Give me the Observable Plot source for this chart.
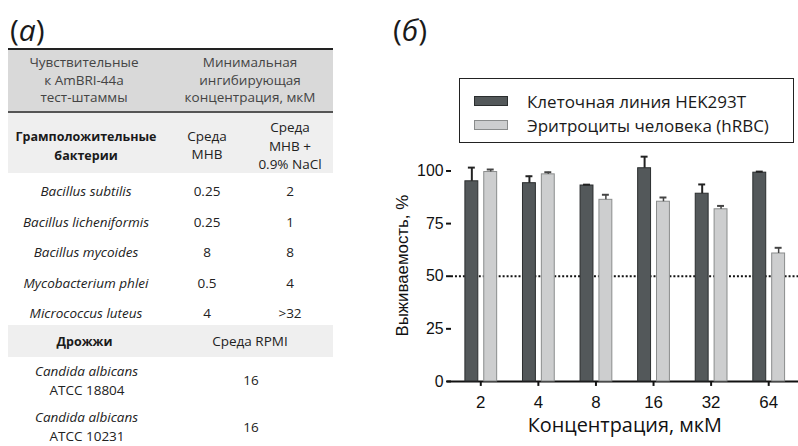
<!DOCTYPE html>
<html><head><meta charset="utf-8">
<script src="https://cdn.jsdelivr.net/npm/d3@7"></script>
<script src="https://cdn.jsdelivr.net/npm/@observablehq/plot@0.6"></script>
<style>
html,body{margin:0;padding:0;background:#fff;}
#root{position:relative;width:798px;height:446px;overflow:hidden;font-family:"Open Sans",sans-serif;color:#222;}
.t{position:absolute;transform:translate(-50%,-50%);white-space:nowrap;line-height:1;font-size:13.5px;}
.hd{color:#444;}
.b{font-weight:700;color:#1a1a1a;font-size:12.5px;}
.i{font-style:italic;}
.band{position:absolute;}
.panel{position:absolute;font-size:30px;line-height:1;color:#1a1a1a;}
.chart{position:absolute;left:380px;top:140px;}
.chart svg{overflow:visible;display:block;}
[aria-label="fx-axis label"] text{font-family:"Open Sans",sans-serif;font-size:20px;}
[aria-label="fx-axis tick label"] text{font-size:17px;}
[aria-label="y-axis label"] text{font-size:17px;}
#legend{position:absolute;left:459px;top:78px;width:333px;height:63px;border:1.5px solid #222;background:#fff;}
.sw{position:absolute;left:14px;width:32px;height:8px;}
.lt{position:absolute;left:67px;font-size:17px;line-height:1;white-space:nowrap;color:#1a1a1a;transform:translateY(-50%);}
</style>
</head><body><div id="root"></div>
<script>
// ---------- data: table (a) ----------
const headerCol1 = ["Чувствительные","к AmBRI-44a","тест-штаммы"];
const headerCol2 = ["Минимальная","ингибирующая","концентрация, мкМ"];
const groupGram = ["Грамположительные","бактерии"];
const mediumMHB = ["Среда","MHB"];
const mediumNaCl = ["Среда","MHB +","0.9% NaCl"];
const bacteria = ["Bacillus subtilis","Bacillus licheniformis","Bacillus mycoides","Mycobacterium phlei","Micrococcus luteus"];
const micMHB = ["0.25","0.25","8","0.5","4"];
const micNaCl = ["2","1","8","4",">32"];
const groupYeast = ["Дрожжи"];
const mediumRPMI = ["Среда RPMI"];
const yeasts = [["Candida albicans","ATCC 18804"],["Candida albicans","ATCC 10231"]];
const micRPMI = ["16","16"];

// ---------- data: chart (б) ----------
const concentrations = ["2","4","8","16","32","64"];
const seriesNames = ["Клеточная линия HEK293T","Эритроциты человека (hRBC)"];
const hekMean = [95.1, 94.2, 93.1, 101.3, 89.2, 99.2];
const hekErr  = [6.5, 3.3, 0.4, 5.5, 4.4, 0.5];
const rbcMean = [99.5, 98.4, 86.3, 85.4, 81.8, 60.8];
const rbcErr  = [1.2, 1.0, 2.4, 2.0, 1.6, 2.7];
const yTicks = [0, 25, 50, 75, 100];
const threshold = [50];
const fillColors = ["#53585a", "#cdcecf"];
const strokeColors = ["#2a2d2e", "#8a8c8c"];

const root = document.getElementById("root");
function el(cls, html, style){const d=document.createElement("div");d.className=cls;d.innerHTML=html;Object.assign(d.style,style||{});root.appendChild(d);return d;}
function txt(s, cx, cy, cls){return el("t "+(cls||""), s, {left:cx+"px", top:cy+"px"});}
function lines(arr, cx, ys, cls){arr.forEach((s,k)=>txt(s, cx, ys[k], cls));}

// panel labels
el("panel", '(<i>а</i>)', {left:"10px", top:"15px"});
el("panel", '(<i>б</i>)', {left:"393px", top:"15px"});

// table backgrounds and rules
el("band","",{left:"8px",top:"50px",width:"325px",height:"62px",background:"#d9d9d9"});
el("band","",{left:"8px",top:"113px",width:"325px",height:"60px",background:"#efefef"});
el("band","",{left:"8px",top:"325px",width:"325px",height:"32px",background:"#efefef"});
el("band","",{left:"8px",top:"48px",width:"325px",height:"2px",background:"#222"});
el("band","",{left:"8px",top:"111px",width:"325px",height:"2px",background:"#555"});

// table text
lines(headerCol1, 84, [63, 80.5, 98], "hd");
lines(headerCol2, 250, [63, 80.5, 98], "hd");
lines(groupGram, 86, [137, 156], "b");
lines(mediumMHB, 207, [137, 155]);
lines(mediumNaCl, 290, [128, 146.5, 165]);
const rowY = [191.5, 222.5, 253, 284, 313.5];
bacteria.forEach((s,k)=>{txt(s, 86, rowY[k], "i"); txt(micMHB[k], 207, rowY[k]); txt(micNaCl[k], 290, rowY[k]);});
txt(groupYeast[0], 84.5, 341.5, "b");
txt(mediumRPMI[0], 250, 341.5);
const yeastY = [[371.7, 391],[418.3, 436.7]];
yeasts.forEach((p,k)=>{txt(p[0], 86.5, yeastY[k][0], "i"); txt(p[1], 87, yeastY[k][1]); txt(micRPMI[k], 251, (yeastY[k][0]+yeastY[k][1])/2);});

// ---------- chart ----------
const rows = concentrations.flatMap((c,i)=>[
  {conc:c, series:seriesNames[0], value:hekMean[i], err:hekErr[i]},
  {conc:c, series:seriesNames[1], value:rbcMean[i], err:rbcErr[i]}
]);
const hek = rows.filter(d=>d.series===seriesNames[0]);
const rbc = rows.filter(d=>d.series===seriesNames[1]);

const dims = {width: 421, height: 306, marginLeft: 71.5, marginRight: 0, marginTop: 9.5, marginBottom: 63.3};
const baseStyle = {fontFamily: "'Liberation Sans', Arial, sans-serif", fontSize: "16px", color: "#111", background: "transparent"};

// underlay: y axis, baseline and 50% threshold (unfaceted, so the lines are continuous)
const under = Plot.plot({
  ...dims, style: baseStyle,
  y: {domain: [0, 110]},
  marks: [
    Plot.ruleY(threshold, {stroke: "#111", strokeWidth: 2, strokeDasharray: "2,2"}),
    Plot.ruleY([0], {stroke: "#111", strokeWidth: 2, insetLeft: -4}),
    Plot.axisY({ticks: yTicks, tickSize: 5, tickPadding: 3, strokeWidth: 2, line: true,
      label: "Выживаемость, %", labelAnchor: "center", labelOffset: 56, labelArrow: "none"})
  ]
});

// grouped bars with error bars (faceted by concentration)
const chart = Plot.plot({
  ...dims, style: baseStyle,
  fx: {domain: concentrations, padding: 0},
  x: {domain: seriesNames, paddingInner: 0.33, paddingOuter: 0.665, axis: null},
  y: {domain: [0, 110], axis: null},
  color: {domain: seriesNames, range: fillColors},
  marks: [
    Plot.barY(hek, {fx: "conc", x: "series", y: "value", fill: "series", stroke: strokeColors[0], strokeWidth: 1}),
    Plot.barY(rbc, {fx: "conc", x: "series", y: "value", fill: "series", stroke: strokeColors[1], strokeWidth: 1}),
    Plot.ruleX(hek, {fx: "conc", x: "series", y1: "value", y2: d=>d.value+d.err, stroke: "#222", strokeWidth: 2}),
    Plot.tickY(hek, {fx: "conc", x: "series", y: d=>d.value+d.err, stroke: "#222", strokeWidth: 2, insetLeft: 3, insetRight: 3}),
    Plot.ruleX(rbc, {fx: "conc", x: "series", y1: "value", y2: d=>d.value+d.err, stroke: "#444", strokeWidth: 1.5}),
    Plot.tickY(rbc, {fx: "conc", x: "series", y: d=>d.value+d.err, stroke: "#444", strokeWidth: 2, insetLeft: 3, insetRight: 3}),
    Plot.axisFx({anchor: "bottom", tickSize: 5, tickPadding: 10, strokeWidth: 2,
      label: "Концентрация, мкМ", labelAnchor: "center", labelOffset: 51, labelArrow: "none"})
  ]
});
[under, chart].forEach(svg=>{const h=document.createElement("div"); h.className="chart"; h.appendChild(svg); root.appendChild(h);});

// legend (drawn from the same colors and series names)
const legend = el("", "", {}); legend.id = "legend";
const swY = [17, 40.5], txY = [22, 46];
seriesNames.forEach((s,k)=>{
  const sw = document.createElement("div"); sw.className = "sw";
  Object.assign(sw.style, {top: swY[k]+"px", background: fillColors[k], border: "1px solid "+strokeColors[k]});
  legend.appendChild(sw);
  const t = document.createElement("div"); t.className = "lt"; t.textContent = s; t.style.top = txY[k]+"px";
  legend.appendChild(t);
});
</script>
</body></html>
